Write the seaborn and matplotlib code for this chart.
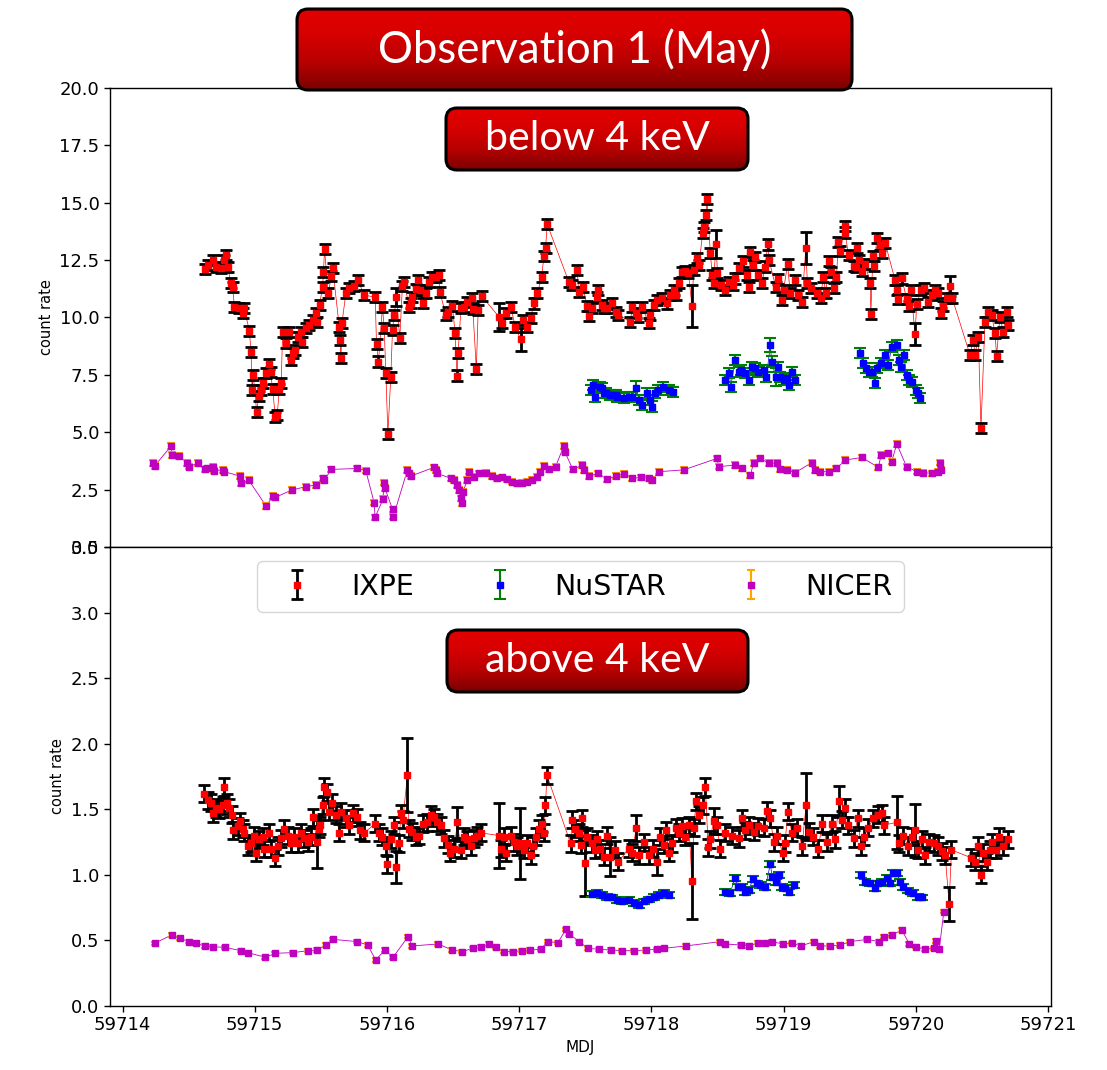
import numpy as np
import matplotlib
matplotlib.use("Agg")
import matplotlib.pyplot as plt
import seaborn as sns
from matplotlib.patches import FancyBboxPatch
from matplotlib.colors import LinearSegmentedColormap

MJD0 = 59714  # times below are days after this MJD

# ---------------- below 4 keV ----------------
ixpe_lo_t = [0.620, 0.644, 0.682, 0.708, 0.745, 0.770, 0.783, 0.795, 0.821, 0.833,
             0.846, 0.884, 0.909, 0.920, 0.959, 0.972, 0.980, 0.989, 1.015, 1.030,
             1.045, 1.065, 1.083, 1.110, 1.120, 1.135, 1.156, 1.170, 1.186, 1.200,
             1.211, 1.236, 1.256, 1.274, 1.287, 1.307, 1.324, 1.350, 1.360, 1.386,
             1.412, 1.437, 1.462, 1.470, 1.490, 1.513, 1.520, 1.528, 1.555, 1.580,
             1.590, 1.639, 1.645, 1.652, 1.660, 1.689, 1.710, 1.750, 1.780, 1.828,
             1.911, 1.921, 1.936, 1.966, 1.979, 1.992, 2.007, 2.029, 2.042, 2.054,
             2.072, 2.097, 2.117, 2.130, 2.168, 2.180, 2.193, 2.220, 2.238, 2.250,
             2.270, 2.294, 2.320, 2.340, 2.369, 2.390, 2.400, 2.445, 2.460, 2.495,
             2.515, 2.530, 2.538, 2.560, 2.580, 2.608, 2.640, 2.650, 2.676, 2.690,
             2.717, 2.847, 2.873, 2.900, 2.936, 2.970, 3.011, 3.030, 3.060, 3.087,
             3.110, 3.137, 3.170, 3.187, 3.200, 3.212, 3.376, 3.400, 3.439, 3.450,
             3.480, 3.515, 3.530, 3.550, 3.590, 3.600, 3.630, 3.640, 3.666, 3.699,
             3.729, 3.750, 3.842, 3.855, 3.880, 3.900, 3.930, 3.980, 3.990, 4.018,
             4.040, 4.081, 4.120, 4.144, 4.170, 4.190, 4.212, 4.230, 4.257, 4.280,
             4.307, 4.320, 4.345, 4.360, 4.388, 4.400, 4.413, 4.420, 4.446, 4.460,
             4.470, 4.489, 4.500, 4.530, 4.560, 4.590, 4.620, 4.630, 4.660, 4.690,
             4.720, 4.740, 4.748, 4.770, 4.780, 4.810, 4.836, 4.860, 4.880, 4.890,
             4.940, 4.960, 4.987, 5.000, 5.030, 5.050, 5.088, 5.110, 5.140, 5.168,
             5.180, 5.210, 5.250, 5.280, 5.300, 5.320, 5.340, 5.360, 5.380, 5.400,
             5.415, 5.430, 5.461, 5.465, 5.491, 5.529, 5.545, 5.554, 5.572, 5.592,
             5.617, 5.655, 5.660, 5.675, 5.687, 5.705, 5.730, 5.743, 5.768, 5.843,
             5.856, 5.869, 5.894, 5.932, 5.949, 5.964, 5.994, 6.007, 6.040, 6.065,
             6.090, 6.120, 6.146, 6.171, 6.191, 6.208, 6.234, 6.259, 6.276, 6.410,
             6.435, 6.448, 6.473, 6.493, 6.523, 6.548, 6.574, 6.599, 6.611, 6.636,
             6.662, 6.687, 6.699]
ixpe_lo_y = [12.10, 12.29, 12.50, 12.19, 12.15, 12.50, 12.72, 12.19, 11.49, 11.34,
             10.47, 10.40, 10.18, 10.40, 9.43, 8.51, 6.84, 7.49, 5.87, 6.58,
             6.84, 7.13, 7.57, 7.96, 7.62, 6.87, 5.68, 5.75, 6.89, 7.13,
             9.38, 8.90, 9.38, 8.15, 8.45, 8.60, 9.16, 9.38, 8.95, 9.53,
             9.69, 9.89, 10.18, 9.80, 10.54, 11.34, 12.00, 12.97, 11.05, 11.79,
             12.15, 9.60, 9.00, 8.22, 9.77, 11.05, 11.27, 11.37, 11.63, 10.98,
             10.88, 8.85, 8.08, 10.47, 9.53, 7.57, 4.91, 7.42, 9.46, 10.11,
             10.88, 9.09, 11.37, 11.55, 10.47, 10.65, 10.90, 11.22, 11.63, 11.20,
             10.65, 11.05, 11.55, 11.75, 11.78, 11.85, 11.12, 10.11, 10.25, 10.50,
             9.34, 7.47, 8.44, 10.40, 10.47, 10.69, 10.83, 10.35, 7.74, 10.32,
             10.93, 10.03, 9.74, 10.18, 10.47, 9.60, 9.05, 9.89, 9.60, 9.96,
             10.61, 11.05, 11.75, 12.68, 13.04, 14.06, 11.55, 11.41, 12.07, 11.12,
             11.34, 10.50, 10.06, 10.40, 10.90, 11.20, 10.54, 10.40, 10.40, 10.61,
             10.25, 10.11, 9.82, 10.47, 10.18, 10.04, 10.47, 9.74, 10.11, 10.54,
             10.76, 10.83, 10.61, 10.98, 11.20, 10.98, 11.49, 12.00, 12.04, 11.95,
             10.50, 12.07, 12.58, 12.30, 13.67, 13.96, 14.47, 15.15, 12.80, 11.85,
             11.49, 13.20, 11.93, 11.41, 11.20, 11.55, 11.41, 11.70, 12.15, 12.44,
             11.85, 11.34, 12.87, 12.30, 12.62, 11.85, 11.49, 12.22, 13.18, 12.50,
             11.34, 11.66, 10.76, 11.20, 12.33, 11.05, 11.63, 10.98, 10.69, 13.04,
             11.49, 11.27, 11.05, 10.83, 11.78, 11.05, 12.46, 12.00, 11.27, 11.78,
             13.30, 12.90, 13.99, 13.70, 12.72, 12.24, 12.22, 13.01, 12.50, 12.04,
             12.33, 11.52, 10.15, 12.68, 12.24, 13.45, 13.16, 12.79, 13.26, 11.63,
             11.20, 10.79, 11.70, 10.79, 10.50, 11.20, 9.28, 10.58, 11.20, 11.27,
             10.69, 10.98, 11.20, 11.05, 10.18, 10.50, 10.83, 11.37, 10.83, 8.37,
             9.02, 8.37, 9.16, 5.17, 9.81, 10.25, 10.11, 9.31, 8.33, 10.04,
             9.38, 10.25, 9.67]
ixpe_lo_err = 0.22
ixpe_lo_big = {2.847: 0.6, 3.011: 0.5, 4.307: 0.9, 4.489: 0.6, 5.168: 0.7,
               5.994: 0.5, 6.259: 0.45, 2.072: 0.4}

# NuSTAR comes in three separate orbits (segment id per point)
nustar_lo_t = [3.54, 3.56, 3.57, 3.61, 3.63, 3.64, 3.66, 3.69, 3.70, 3.73,
               3.74, 3.79, 3.83, 3.855, 3.88, 3.91, 3.93, 3.97, 3.99, 4.006,
               4.03, 4.05, 4.09, 4.13, 4.16,
               4.56, 4.59, 4.60, 4.635, 4.66, 4.68, 4.71, 4.735, 4.76, 4.78,
               4.81, 4.85, 4.87, 4.90, 4.91, 4.94, 4.96, 4.975, 5.00, 5.025,
               5.04, 5.06, 5.088,
               5.58, 5.60, 5.62, 5.645, 5.67, 5.69, 5.71, 5.74, 5.77, 5.79,
               5.82, 5.86, 5.87, 5.89, 5.91, 5.93, 5.95, 5.97, 6.00, 6.015,
               6.03]
nustar_lo_y = [6.84, 7.06, 6.55, 6.99, 6.92, 6.70, 6.70, 6.62, 6.62, 6.62,
               6.55, 6.48, 6.55, 6.55, 6.92, 6.41, 6.19, 6.70, 6.41, 6.12,
               6.70, 6.84, 6.99, 6.84, 6.77,
               7.28, 7.57, 6.99, 8.15, 7.64, 7.71, 7.57, 7.28, 7.86, 7.79,
               7.64, 7.71, 7.42, 8.80, 8.08, 7.42, 7.86, 7.42, 7.28, 7.35,
               7.06, 7.64, 7.28,
               8.47, 8.03, 7.79, 7.64, 7.64, 7.13, 7.79, 8.00, 8.37, 7.93,
               8.73, 8.80, 8.15, 7.86, 8.37, 7.50, 7.28, 7.20, 6.84, 6.70,
               6.48]
nustar_lo_seg = [1] * 25 + [2] * 23 + [3] * 21
nustar_lo_err = 0.22
nustar_lo_big = {4.90: 0.3, 4.94: 0.4, 3.88: 0.3}

nicer_lo_t = [0.229, 0.242, 0.368, 0.375, 0.430, 0.490, 0.500, 0.570, 0.620, 0.637,
              0.687, 0.695, 0.758, 0.770, 0.889, 0.896, 0.954, 1.085, 1.140, 1.155,
              1.280, 1.387, 1.463, 1.513, 1.525, 1.580, 1.777, 1.840, 1.903, 1.910,
              1.970, 1.978, 1.985, 2.042, 2.048, 2.155, 2.170, 2.180, 2.357, 2.370,
              2.380, 2.482, 2.507, 2.530, 2.545, 2.558, 2.565, 2.575, 2.608, 2.620,
              2.660, 2.696, 2.747, 2.797, 2.835, 2.873, 2.910, 2.948, 2.986, 3.024,
              3.060, 3.100, 3.137, 3.160, 3.187, 3.225, 3.275, 3.338, 3.345, 3.406,
              3.477, 3.490, 3.527, 3.600, 3.666, 3.729, 3.790, 3.855, 3.918, 3.980,
              4.006, 4.056, 4.245, 4.497, 4.509, 4.635, 4.685, 4.748, 4.773, 4.824,
              4.887, 4.950, 4.975, 5.025, 5.088, 5.214, 5.239, 5.277, 5.340, 5.400,
              5.466, 5.592, 5.717, 5.738, 5.793, 5.818, 5.856, 5.930, 6.007, 6.057,
              6.120, 6.171, 6.183, 6.190]
nicer_lo_y = [3.65, 3.53, 4.40, 4.01, 3.96, 3.65, 3.50, 3.65, 3.38, 3.42,
              3.50, 3.33, 3.36, 3.28, 3.09, 2.77, 2.92, 1.79, 2.22, 2.16,
              2.48, 2.63, 2.70, 2.99, 2.92, 3.38, 3.42, 3.33, 1.93, 1.29,
              2.08, 2.80, 2.56, 1.64, 1.32, 3.36, 3.21, 3.09, 3.47, 3.36,
              3.21, 2.99, 2.92, 2.70, 2.48, 2.12, 1.90, 2.41, 2.92, 3.28,
              3.06, 3.21, 3.24, 3.09, 2.99, 3.03, 2.95, 2.85, 2.77, 2.80,
              2.85, 2.92, 3.06, 3.28, 3.53, 3.38, 3.50, 4.40, 4.15, 3.38,
              3.57, 3.36, 3.09, 3.21, 2.95, 3.09, 3.18, 2.99, 3.03, 2.99,
              2.92, 3.28, 3.36, 3.86, 3.50, 3.57, 3.42, 3.12, 3.65, 3.86,
              3.65, 3.65, 3.38, 3.36, 3.24, 3.68, 3.36, 3.28, 3.28, 3.42,
              3.79, 3.90, 3.47, 4.01, 4.08, 3.72, 4.49, 3.50, 3.28, 3.24,
              3.21, 3.28, 3.68, 3.36]
nicer_lo_err = 0.12

# ---------------- above 4 keV ----------------
ixpe_hi_t = [0.619, 0.643, 0.668, 0.683, 0.707, 0.733, 0.758, 0.770, 0.788, 0.808,
             0.828, 0.838, 0.870, 0.888, 0.908, 0.920, 0.946, 0.972, 0.997, 1.010,
             1.035, 1.060, 1.073, 1.105, 1.124, 1.150, 1.173, 1.200, 1.223, 1.250,
             1.274, 1.300, 1.324, 1.350, 1.374, 1.400, 1.425, 1.443, 1.468, 1.483,
             1.493, 1.513, 1.525, 1.550, 1.564, 1.584, 1.614, 1.639, 1.650, 1.689,
             1.715, 1.740, 1.770, 1.795, 1.828, 1.910, 1.940, 1.966, 1.990, 2.004,
             2.029, 2.054, 2.072, 2.092, 2.105, 2.120, 2.155, 2.167, 2.193, 2.218,
             2.244, 2.270, 2.306, 2.330, 2.357, 2.382, 2.407, 2.432, 2.458, 2.480,
             2.508, 2.533, 2.560, 2.583, 2.608, 2.633, 2.660, 2.683, 2.710, 2.847,
             2.860, 2.885, 2.903, 2.935, 2.960, 2.986, 3.010, 3.035, 3.060, 3.086,
             3.104, 3.130, 3.149, 3.174, 3.187, 3.199, 3.210, 3.389, 3.400, 3.426,
             3.450, 3.470, 3.477, 3.500, 3.515, 3.550, 3.577, 3.590, 3.615, 3.640,
             3.666, 3.690, 3.724, 3.750, 3.830, 3.855, 3.886, 3.906, 3.943, 3.980,
             4.010, 4.044, 4.069, 4.094, 4.110, 4.130, 4.157, 4.187, 4.207, 4.233,
             4.258, 4.283, 4.308, 4.320, 4.340, 4.360, 4.388, 4.408, 4.430, 4.446,
             4.470, 4.496, 4.520, 4.560, 4.610, 4.660, 4.686, 4.710, 4.737, 4.774,
             4.810, 4.850, 4.874, 4.900, 4.925, 4.950, 4.993, 5.010, 5.033, 5.063,
             5.100, 5.140, 5.170, 5.190, 5.226, 5.264, 5.290, 5.327, 5.365, 5.390,
             5.420, 5.440, 5.466, 5.490, 5.530, 5.560, 5.586, 5.610, 5.640, 5.680,
             5.717, 5.747, 5.760, 5.856, 5.870, 5.906, 5.940, 5.970, 5.996, 6.020,
             6.047, 6.070, 6.097, 6.134, 6.167, 6.197, 6.222, 6.252, 6.270, 6.420,
             6.447, 6.470, 6.493, 6.510, 6.536, 6.560, 6.578, 6.610, 6.628, 6.660,
             6.694]
ixpe_hi_y = [1.62, 1.57, 1.55, 1.47, 1.51, 1.50, 1.53, 1.67, 1.55, 1.51,
             1.46, 1.34, 1.37, 1.41, 1.35, 1.32, 1.22, 1.24, 1.30, 1.17,
             1.27, 1.29, 1.20, 1.32, 1.20, 1.13, 1.22, 1.28, 1.35, 1.30,
             1.24, 1.29, 1.24, 1.32, 1.28, 1.25, 1.29, 1.44, 1.25, 1.35,
             1.38, 1.53, 1.67, 1.63, 1.48, 1.55, 1.46, 1.32, 1.48, 1.43,
             1.38, 1.47, 1.44, 1.34, 1.32, 1.39, 1.32, 1.29, 1.22, 1.08,
             1.27, 1.38, 1.06, 1.24, 1.47, 1.42, 1.76, 1.35, 1.33, 1.29,
             1.30, 1.39, 1.40, 1.46, 1.44, 1.40, 1.38, 1.28, 1.23, 1.17,
             1.20, 1.40, 1.19, 1.29, 1.27, 1.22, 1.28, 1.30, 1.32, 1.30,
             1.20, 1.29, 1.17, 1.30, 1.25, 1.22, 1.24, 1.19, 1.24, 1.15,
             1.22, 1.29, 1.35, 1.39, 1.32, 1.53, 1.76, 1.24, 1.42, 1.35,
             1.32, 1.23, 1.43, 1.09, 1.29, 1.24, 1.19, 1.27, 1.20, 1.14,
             1.30, 1.14, 1.19, 1.10, 1.20, 1.17, 1.36, 1.15, 1.25, 1.15,
             1.20, 1.10, 1.29, 1.23, 1.34, 1.17, 1.24, 1.36, 1.32, 1.37,
             1.29, 1.38, 0.95, 1.36, 1.56, 1.46, 1.53, 1.67, 1.21, 1.27,
             1.41, 1.38, 1.20, 1.32, 1.30, 1.28, 1.43, 1.34, 1.38, 1.33,
             1.37, 1.36, 1.49, 1.43, 1.25, 1.30, 1.17, 1.24, 1.48, 1.32,
             1.36, 1.22, 1.53, 1.33, 1.29, 1.20, 1.39, 1.25, 1.39, 1.27,
             1.56, 1.42, 1.51, 1.38, 1.28, 1.43, 1.22, 1.29, 1.36, 1.43,
             1.46, 1.47, 1.38, 1.40, 1.24, 1.30, 1.22, 1.29, 1.34, 1.19,
             1.27, 1.15, 1.25, 1.24, 1.22, 1.18, 1.15, 0.78, 1.19, 1.13,
             1.10, 1.22, 1.00, 1.17, 1.10, 1.19, 1.25, 1.19, 1.29, 1.22,
             1.27]
ixpe_hi_err = 0.065
ixpe_hi_big = {1.468: 0.2, 2.072: 0.12, 2.155: 0.28, 2.533: 0.12, 2.847: 0.25,
               3.010: 0.27, 3.500: 0.25, 3.690: 0.15, 3.886: 0.1, 4.044: 0.1,
               4.308: 0.29, 4.470: 0.1, 5.170: 0.25, 5.420: 0.12, 5.856: 0.2,
               5.996: 0.2, 6.252: 0.13}

nustar_hi_t = [3.55, 3.59, 3.627, 3.666, 3.70, 3.74, 3.78, 3.83, 3.868, 3.906,
               3.943, 3.98, 4.02, 4.056, 4.094, 4.132,
               4.56, 4.597, 4.63, 4.655, 4.686, 4.71, 4.737, 4.766, 4.80, 4.825,
               4.863, 4.90, 4.913, 4.943, 4.963, 4.988, 5.013, 5.043, 5.076,
               5.586, 5.617, 5.655, 5.688, 5.717, 5.747, 5.78, 5.806, 5.83, 5.856,
               5.881, 5.906, 5.944, 5.98, 6.02, 6.045]
nustar_hi_y = [0.854, 0.864, 0.846, 0.833, 0.828, 0.810, 0.797, 0.810, 0.784, 0.771,
               0.797, 0.813, 0.833, 0.846, 0.859, 0.846,
               0.872, 0.859, 0.974, 0.910, 0.910, 0.872, 0.885, 0.966, 0.935, 0.923,
               0.910, 1.083, 0.986, 0.948, 0.999, 0.910, 0.897, 0.872, 0.923,
               0.999, 0.948, 0.935, 0.897, 0.935, 0.948, 0.974, 0.935, 1.017, 1.012,
               0.948, 0.910, 0.880, 0.859, 0.833, 0.828]
nustar_hi_seg = [1] * 16 + [2] * 19 + [3] * 16
nustar_hi_err = 0.022

nicer_hi_t = [0.242, 0.372, 0.432, 0.500, 0.555, 0.620, 0.686, 0.774, 0.896, 0.948,
              1.078, 1.157, 1.288, 1.405, 1.470, 1.536, 1.593, 1.776, 1.854, 1.915,
              1.985, 2.046, 2.160, 2.190, 2.386, 2.495, 2.570, 2.648, 2.713, 2.770,
              2.822, 2.888, 2.953, 3.019, 3.084, 3.163, 3.215, 3.293, 3.354, 3.380,
              3.454, 3.520, 3.607, 3.694, 3.781, 3.868, 3.956, 4.043, 4.095, 4.260,
              4.522, 4.557, 4.675, 4.740, 4.805, 4.862, 4.914, 4.993, 5.067, 5.132,
              5.228, 5.272, 5.350, 5.428, 5.502, 5.633, 5.720, 5.763, 5.820, 5.894,
              5.951, 6.003, 6.068, 6.134, 6.155, 6.177, 6.212]
nicer_hi_y = [0.478, 0.542, 0.516, 0.491, 0.478, 0.458, 0.452, 0.447, 0.422, 0.407,
              0.372, 0.402, 0.407, 0.422, 0.427, 0.465, 0.508, 0.491, 0.465, 0.351,
              0.427, 0.372, 0.529, 0.458, 0.473, 0.427, 0.415, 0.440, 0.452, 0.473,
              0.447, 0.415, 0.415, 0.422, 0.427, 0.432, 0.491, 0.483, 0.585, 0.549,
              0.491, 0.440, 0.432, 0.427, 0.422, 0.422, 0.427, 0.432, 0.440, 0.458,
              0.491, 0.473, 0.465, 0.458, 0.483, 0.478, 0.491, 0.473, 0.478, 0.458,
              0.491, 0.458, 0.458, 0.465, 0.491, 0.508, 0.491, 0.529, 0.542, 0.580,
              0.473, 0.452, 0.432, 0.440, 0.496, 0.432, 0.720]
nicer_hi_err = 0.012

MAGENTA = '#bf00bf'


def errs(t, default, big=None):
    big = big or {}
    return np.array([big.get(v, default) for v in t])


def series(ax, t, y, yerr, mcolor, ecolor, lcolor, label, ms, cap, elw, lw, seg=None):
    x = MJD0 + np.asarray(t)
    if seg is None:
        seg = np.zeros(len(x))
    sns.lineplot(x=x, y=y, units=seg, ax=ax, color=lcolor, lw=lw, sort=False,
                 estimator=None, legend=False, zorder=2)
    ax.errorbar(x, y, yerr=yerr, fmt='s', color=mcolor, ecolor=ecolor, ms=ms,
                mec=mcolor, capsize=cap, elinewidth=elw, capthick=elw,
                label=label, zorder=3)


def banner(fig, px, text, fs):
    # px = (left, top, right, bottom) in figure pixels
    W, H = fig.get_size_inches() * fig.dpi
    l, t, r, b = px
    w, h = r - l, b - t
    bax = fig.add_axes([l / W, 1 - b / H, w / W, h / H])
    bax.set_xlim(0, w)
    bax.set_ylim(0, h)
    bax.set_axis_off()
    cmap = LinearSegmentedColormap.from_list(
        'redgrad', [(0, '#780000'), (0.35, '#b80000'), (0.7, '#d80000'), (1, '#e20000')])
    grad = np.linspace(0, 1, 256).reshape(-1, 1)
    im = bax.imshow(grad, extent=[0, w, 0, h], origin='lower', cmap=cmap, aspect='auto')
    box = FancyBboxPatch((1, 1), w - 2, h - 2, boxstyle='round,pad=0,rounding_size=11',
                         fc='none', ec='black', lw=2.2)
    bax.add_patch(box)
    box.set_clip_on(False)
    im.set_clip_path(box)
    bax.text(w / 2, h / 2, text, color='white', fontsize=fs, ha='center',
             va='center', family=['Lato', 'DejaVu Sans'])


sns.set_theme(style='ticks', rc={'axes.edgecolor': 'black', 'xtick.color': 'black',
                                 'ytick.color': 'black', 'text.color': 'black',
                                 'axes.labelcolor': 'black', 'axes.linewidth': 1.0})
plt.rcParams['font.family'] = ['DejaVu Sans']

fig, (ax1, ax2) = plt.subplots(2, 1, sharex=True, figsize=(11.07, 10.70), dpi=100,
                               gridspec_kw={'hspace': 0})
fig.subplots_adjust(left=0.0994, right=0.9494, top=0.9178, bottom=0.0598)

series(ax1, ixpe_lo_t, ixpe_lo_y, errs(ixpe_lo_t, ixpe_lo_err, ixpe_lo_big),
       'red', 'black', 'red', 'IXPE', 4.8, 4.5, 2.0, 0.5)
series(ax1, nustar_lo_t, nustar_lo_y, errs(nustar_lo_t, nustar_lo_err, nustar_lo_big),
       'blue', 'green', 'blue', 'NuSTAR', 4.8, 4, 1.5, 0.5, nustar_lo_seg)
series(ax1, nicer_lo_t, nicer_lo_y, errs(nicer_lo_t, nicer_lo_err),
       MAGENTA, 'orange', MAGENTA, 'NICER', 4.8, 3, 1.5, 0.6)

series(ax2, ixpe_hi_t, ixpe_hi_y, errs(ixpe_hi_t, ixpe_hi_err, ixpe_hi_big),
       'red', 'black', 'red', 'IXPE', 4.8, 4.5, 2.0, 0.5)
series(ax2, nustar_hi_t, nustar_hi_y, errs(nustar_hi_t, nustar_hi_err),
       'blue', 'green', 'blue', 'NuSTAR', 4.8, 4, 1.5, 0.5, nustar_hi_seg)
series(ax2, nicer_hi_t, nicer_hi_y, errs(nicer_hi_t, nicer_hi_err),
       MAGENTA, 'orange', MAGENTA, 'NICER', 4.8, 3, 1.5, 0.6)

ax1.set_ylim(0, 20)
ax1.set_yticks(np.arange(0, 20.1, 2.5))
ax2.set_ylim(0, 3.5)
ax2.set_yticks(np.arange(0, 3.51, 0.5))
ax2.set_xticks(np.arange(59714, 59722))
ax2.ticklabel_format(axis='x', useOffset=False, style='plain')
for ax in (ax1, ax2):
    ax.tick_params(labelsize=13, length=4, width=1)
    ax.set_ylabel('count rate', fontsize=10.5)
ax2.set_xlabel('MDJ', fontsize=11)

leg = ax2.legend(loc='upper center', ncol=3, fontsize=20.5, handletextpad=0.9,
                 columnspacing=2.0, borderpad=0.4, bbox_to_anchor=(0.5, 1.0),
                 markerscale=0.8)

banner(fig, (296, 8, 853, 91), 'Observation 1 (May)', 31.5)
banner(fig, (445, 107, 749, 171), 'below 4 keV', 29.5)
banner(fig, (446, 629, 749, 693), 'above 4 keV', 29.5)

fig.savefig('out.png', dpi=100)
